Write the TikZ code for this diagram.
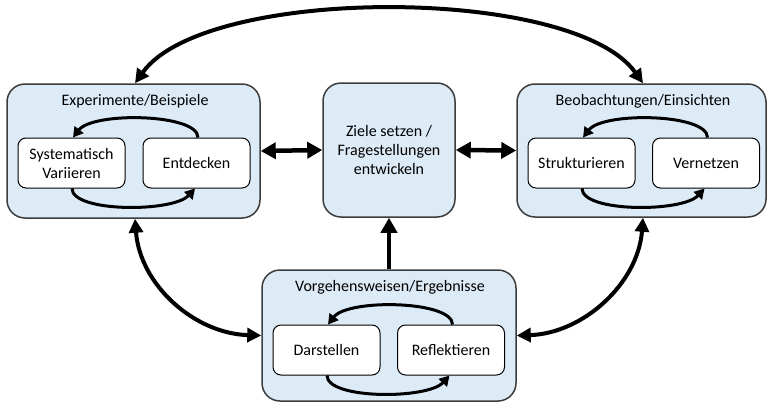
\documentclass[tikz,border=0pt]{standalone}
\usepackage{fontspec}
\setmainfont{Carlito}
\usetikzlibrary{arrows.meta}
\definecolor{boxfill}{RGB}{221,235,247}
\definecolor{boxline}{RGB}{60,60,60}
\begin{document}
\begin{tikzpicture}[x=1pt,y=-1pt,
  font=\fontsize{16}{19}\selectfont,
  outer/.style={draw=boxline,line width=1.5pt,fill=boxfill,rounded corners=18pt,inner sep=0pt,align=center},
  innerbox/.style={draw=black,line width=1pt,fill=white,rounded corners=8pt,minimum width=107pt,minimum height=50pt,align=center,inner sep=0pt},
  titletext/.style={inner sep=0pt},
  bigdouble/.style={line width=4.5pt,{Triangle[length=15pt,width=16pt]}-{Triangle[length=15pt,width=16pt]}},
  bigsingle/.style={line width=4.5pt,-{Triangle[length=15pt,width=16pt]}},
  curvedouble/.style={line width=4pt,{Triangle[length=14pt,width=14pt]}-{Triangle[length=14pt,width=14pt]}},
  cyclearrow/.style={line width=3pt,-{Triangle[length=10pt,width=11pt]}}]
\useasboundingbox (0,0) rectangle (767,402);
% outer boxes
\node[outer,minimum width=253pt,minimum height=134pt] (L) at (133.5,151) {};
\node[outer,minimum width=132pt,minimum height=134pt] (C) at (389,150) {Ziele setzen /\\Fragestellungen\\entwickeln};
\node[outer,minimum width=249pt,minimum height=133pt] (R) at (641.5,150.5) {};
\node[outer,minimum width=254pt,minimum height=131pt] (B) at (389,335.5) {};
% titles
\node[titletext] (Lt) at (135,101) {Experimente/Beispiele};
\node[titletext] (Rt) at (643,101) {Beobachtungen/Einsichten};
\node[titletext] (Bt) at (390,287) {Vorgehensweisen/Ergebnisse};
% inner boxes
\node[innerbox] (SV) at (71.5,163) {Systematisch\\Variieren};
\node[innerbox] (En) at (196.5,163) {Entdecken};
\node[innerbox] (St) at (581.5,163) {Strukturieren};
\node[innerbox] (Ve) at (706,163) {Vernetzen};
\node[innerbox] (Da) at (326.5,350) {Darstellen};
\node[innerbox] (Re) at (451,350) {Reflektieren};
% inner cycles
\draw[cyclearrow] ([xshift=1.5pt]En.north) .. controls +(0,-24) and +(20,-26) .. ([xshift=1.5pt]SV.north);
\draw[cyclearrow] ([xshift=0.5pt]SV.south) .. controls +(0,24) and +(-22,24) .. ([xshift=-1.5pt]En.south);
\draw[cyclearrow] ([xshift=1.5pt]Ve.north) .. controls +(0,-24) and +(20,-26) .. ([xshift=1.5pt]St.north);
\draw[cyclearrow] ([xshift=0.5pt]St.south) .. controls +(0,24) and +(-22,24) .. ([xshift=-1.5pt]Ve.south);
\draw[cyclearrow] ([xshift=1.5pt]Re.north) .. controls +(0,-24) and +(20,-26) .. ([xshift=1.5pt]Da.north);
\draw[cyclearrow] ([xshift=0.5pt]Da.south) .. controls +(0,24) and +(-22,24) .. ([xshift=-1.5pt]Re.south);
% connectors
\draw[bigdouble] (L.east) -- (C.west);
\draw[bigdouble] (C.east) -- (R.west);
\draw[bigsingle] (B.north) -- (C.south);
\draw[curvedouble] ([xshift=1.5pt]L.north) .. controls +(70,-98) and +(-70,-98) .. ([xshift=1.5pt]R.north);
\draw[curvedouble] ([xshift=1.5pt]L.south) .. controls +(5,66) and +(-67,-2) .. (B.west);
\draw[curvedouble] ([xshift=1.5pt]R.south) .. controls +(-5,66) and +(66,-2) .. (B.east);
\end{tikzpicture}
\end{document}
